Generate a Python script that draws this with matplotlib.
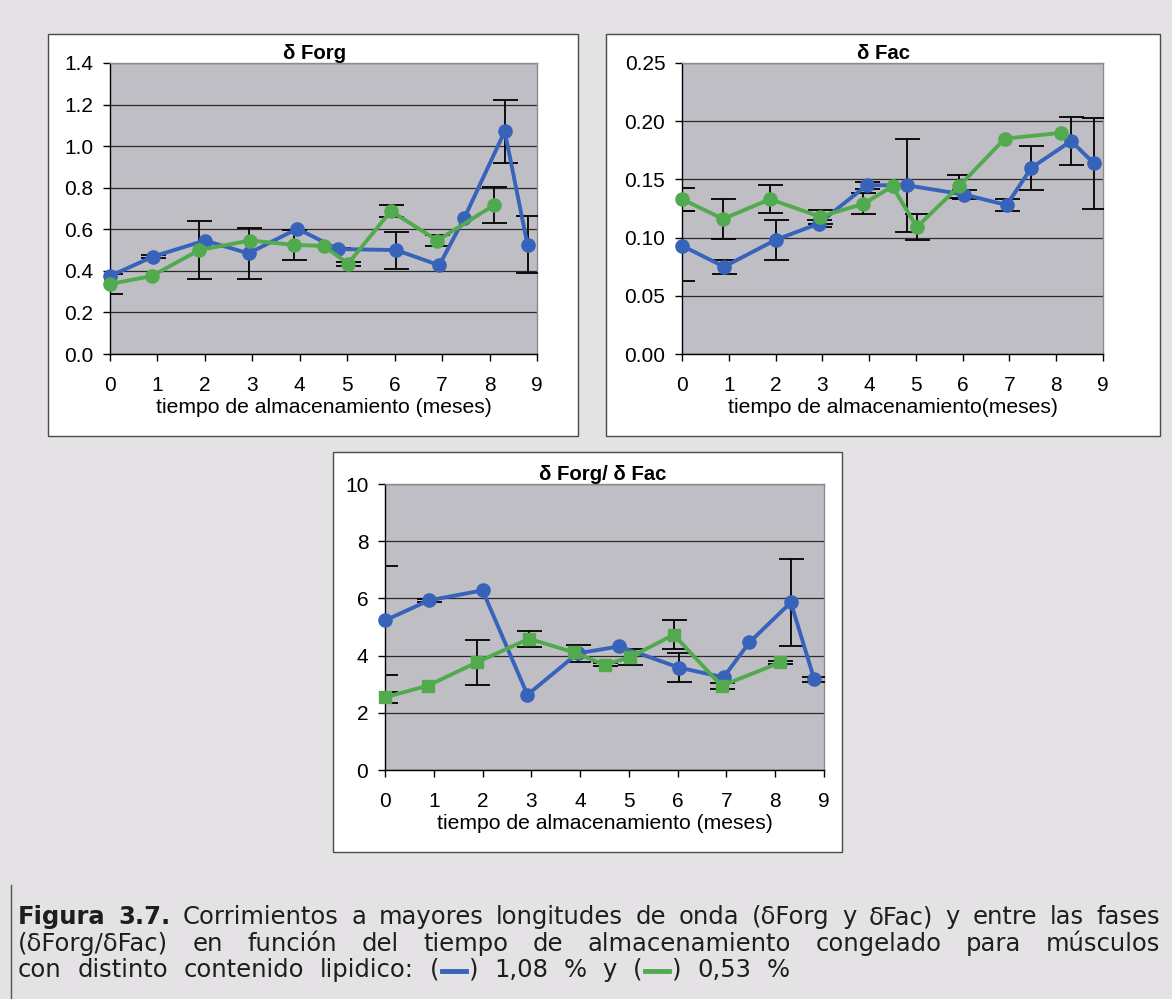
import numpy as np
import matplotlib
matplotlib.use("Agg")
import matplotlib.pyplot as plt
from matplotlib.patches import Rectangle
from matplotlib.lines import Line2D
from matplotlib.ticker import FormatStrFormatter, MultipleLocator

# Storage time (months) of each sampling, per muscle group
meses_108 = [0, 0.9, 2.0, 2.92, 3.95, 4.8, 6.03, 6.94, 7.47, 8.32, 8.8]
meses_053 = [0, 0.88, 1.88, 2.95, 3.88, 4.5, 5.02, 5.92, 6.9, 8.1]

# delta Forg
forg_108 = [0.375, 0.468, 0.546, 0.484, 0.603, 0.505, 0.50, 0.427, 0.655, 1.071, 0.525]
forg_108_err = [0, 0.006, 0, 0.124, 0, 0.006, 0.089, 0, 0, 0.152, 0.137]
forg_053 = [0.337, 0.375, 0.50, 0.546, 0.525, 0.52, 0.435, 0.688, 0.546, 0.717]
forg_053_err = [0.05, 0, 0.14, 0, 0.072, 0, 0.01, 0.03, 0.025, 0.087]

# delta Fac
fac_108 = [0.093, 0.075, 0.098, 0.112, 0.145, 0.145, 0.137, 0.128, 0.160, 0.183, 0.164]
fac_108_err = [0.03, 0.006, 0.017, 0.003, 0.003, 0.04, 0.004, 0.005, 0.019, 0.021, 0.039]
fac_053 = [0.133, 0.116, 0.133, 0.118, 0.129, 0.144, 0.109, 0.144, 0.185, 0.190]
fac_053_err = [0.01, 0.017, 0.012, 0.006, 0.009, 0, 0.011, 0.01, 0, 0]

# delta Forg / delta Fac
ratio_108 = [5.23, 5.93, 6.28, 2.63, 4.08, 4.32, 3.58, 3.24, 4.46, 5.86, 3.17]
ratio_108_err = [1.9, 0.05, 0, 0, 0.3, 0, 0.52, 0, 0, 1.53, 0.08]
ratio_053 = [2.54, 2.95, 3.76, 4.59, 4.11, 3.68, 3.94, 4.73, 2.94, 3.76]
ratio_053_err = [0.2, 0, 0.78, 0.28, 0, 0.05, 0.28, 0.5, 0.1, 0.05]

x_ticks = list(range(0, 10))

BLUE = "#3763BA"
GREEN = "#52AA4E"
PLOT_BG = "#C0BEC5"
FIG_BG = "#E4E2E4"

W, H = 1172, 999
fig = plt.figure(figsize=(W / 100, H / 100), dpi=100, facecolor=FIG_BG)

TICK_FONT = dict(family="Liberation Sans", size=15)


def panel_box(x0, y0, x1, y1):
    fig.patches.append(Rectangle((x0 / W, 1 - y1 / H), (x1 - x0) / W, (y1 - y0) / H,
                                 transform=fig.transFigure, facecolor="white",
                                 edgecolor="#4a4a4a", lw=1.0, zorder=-5))


def make_axes(l, t, r, b):
    return fig.add_axes([l / W, 1 - b / H, (r - l) / W, (b - t) / H])


def style_axes(ax, ymax, ystep, yfmt, title, xlabel, title_shift_px, width_px):
    ax.set_facecolor(PLOT_BG)
    ax.set_xlim(0, 9)
    ax.set_ylim(0, ymax)
    ax.set_xticks(x_ticks)
    ax.yaxis.set_major_locator(MultipleLocator(ystep))
    ax.yaxis.set_major_formatter(FormatStrFormatter(yfmt))
    ax.grid(axis="y", color="#2a2a2a", lw=0.9)
    ax.set_axisbelow(True)
    for s in ("left", "bottom"):
        ax.spines[s].set_color("black")
        ax.spines[s].set_linewidth(1.0)
    for s in ("top", "right"):
        ax.spines[s].set_color("#8c8c8c")
        ax.spines[s].set_linewidth(1.0)
    ax.tick_params(axis="x", direction="out", length=5, width=1, pad=11)
    ax.tick_params(axis="y", direction="out", length=5, width=1, pad=7)
    for lab in ax.get_xticklabels() + ax.get_yticklabels():
        lab.set_fontfamily(TICK_FONT["family"])
        lab.set_fontsize(TICK_FONT["size"])
    ax.text(0.5 - title_shift_px / width_px, 1.0, title, transform=ax.transAxes,
            ha="center", va="bottom", fontfamily="Liberation Sans", fontweight="bold",
            fontsize=14.7)
    ax.set_xlabel(xlabel, fontfamily="Liberation Sans", fontsize=15.2, labelpad=2)


def draw_series(ax, x, y, err, color, marker, ms):
    x = np.asarray(x, dtype=float)
    y = np.asarray(y, dtype=float)
    e = np.asarray(err, dtype=float)
    m = e > 0
    ax.errorbar(x[m], y[m], yerr=e[m], fmt="none", ecolor="black", elinewidth=1.3,
                capsize=9, capthick=1.3, zorder=3)
    ax.plot(x, y, color=color, lw=2.8, marker=marker, ms=ms, mec=color, mfc=color,
            zorder=4, clip_on=False)


# Panel frames
panel_box(48, 34, 578, 436)
panel_box(606, 34, 1160, 436)
panel_box(333, 452, 842, 852)

# delta Forg
ax1 = make_axes(110, 63, 537, 354)
draw_series(ax1, meses_108, forg_108, forg_108_err, BLUE, "o", 9.5)
draw_series(ax1, meses_053, forg_053, forg_053_err, GREEN, "o", 9.5)
style_axes(ax1, 1.4, 0.2, "%.1f", "\u03b4 Forg", "tiempo de almacenamiento (meses)", 9, 427)

# delta Fac
ax2 = make_axes(682, 63, 1103, 354)
draw_series(ax2, meses_108, fac_108, fac_108_err, BLUE, "o", 9.5)
draw_series(ax2, meses_053, fac_053, fac_053_err, GREEN, "o", 9.5)
style_axes(ax2, 0.25, 0.05, "%.2f", "\u03b4 Fac", "tiempo de almacenamiento(meses)", 9, 421)

# ratio
ax3 = make_axes(385, 484, 824, 770)
draw_series(ax3, meses_108, ratio_108, ratio_108_err, BLUE, "o", 9.5)
draw_series(ax3, meses_053, ratio_053, ratio_053_err, GREEN, "s", 8.5)
style_axes(ax3, 10, 2, "%d", "\u03b4 Forg/ \u03b4 Fac", "tiempo de almacenamiento (meses)", 2, 439)

# Left margin rule of the page
fig.lines.append(Line2D([11 / W, 11 / W], [1 - 885 / H, 0], transform=fig.transFigure,
                        color="#555555", lw=1.0))

# Caption, justified like the printed page
renderer = fig.canvas.get_renderer()
CAP = dict(family="DejaVu Sans", size=17.5, color="#1e1e1e")
X_LEFT = 18


def measure(s, bold=False):
    t = fig.text(0, 0, s, fontweight="bold" if bold else "normal", **CAP)
    w = t.get_window_extent(renderer).width
    t.remove()
    return w


SPACE = measure("a a") - measure("aa")


def caption_line(tokens, baseline_px, x_right):
    # tokens: (text, bold, gap_before_in_spaces) or ("<swatch>", color, gap)
    widths = []
    for tok in tokens:
        if tok[0] == "<swatch>":
            widths.append(30)
        else:
            widths.append(measure(tok[0], tok[1]))
    gaps = [tok[2] for tok in tokens]
    natural = sum(widths) + SPACE * sum(gaps)
    n_gap = sum(1 for g in gaps if g > 0)
    extra = max(0.0, (x_right - X_LEFT - natural) / n_gap) if n_gap else 0
    x = X_LEFT
    yf = 1 - baseline_px / H
    for tok, w, g in zip(tokens, widths, gaps):
        if g > 0:
            x += SPACE * g + extra
        if tok[0] == "<swatch>":
            ym = yf + 6 / H
            fig.lines.append(Line2D([(x + 3) / W, (x + w - 3) / W], [ym, ym],
                                    transform=fig.transFigure, color=tok[1], lw=3.5))
        else:
            fig.text(x / W, yf, tok[0], fontweight="bold" if tok[1] else "normal",
                     va="baseline", ha="left", **CAP)
        x += w


def words(s, bold=False, first_gap=1):
    out = []
    for i, wd in enumerate(s.split()):
        out.append((wd, bold, first_gap if i == 0 else 1))
    return out


line1 = (words("Figura 3.7.", bold=True, first_gap=0)
         + words("Corrimientos a mayores longitudes de onda (\u03b4Forg y \u03b4Fac) y entre las fases"))
line2 = words("(\u03b4Forg/\u03b4Fac) en funci\u00f3n del tiempo de almacenamiento congelado para m\u00fasculos",
              first_gap=0)
line3 = (words("con distinto contenido lipidico:", first_gap=0)
         + [("(", False, 1), ("<swatch>", BLUE, 0), (")", False, 0)]
         + words("1,08 % y")
         + [("(", False, 1), ("<swatch>", GREEN, 0), (")", False, 0)]
         + words("0,53 %"))

caption_line(line1, 924, 1160)
caption_line(line2, 951, 1160)
caption_line(line3, 977, 790)

fig.savefig("out.png", dpi=100, facecolor=FIG_BG)
